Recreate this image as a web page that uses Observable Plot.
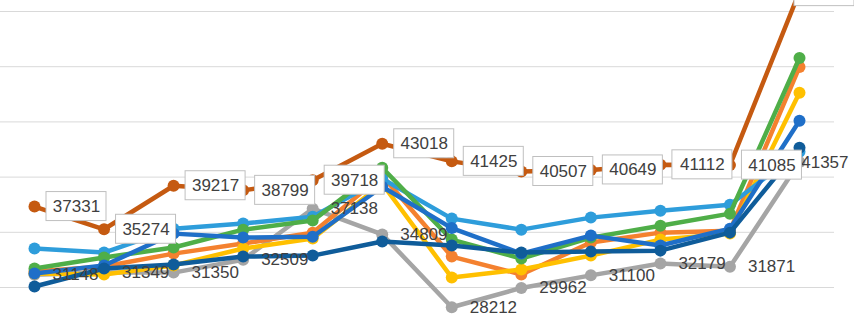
<!DOCTYPE html>
<html><head><meta charset="utf-8">
<script src="https://cdn.jsdelivr.net/npm/d3@7"></script>
<script src="https://cdn.jsdelivr.net/npm/@observablehq/plot@0.6"></script>
<style>html,body{margin:0;padding:0;background:#fff;overflow:hidden}</style>
</head><body><div id="chart"></div>
<script>
const periods = [1,2,3,4,5,6,7,8,9,10,11,12];
const gridValues = [30000,35000,40000,45000,50000,55000];

const brown     = [37331,35274,39217,38799,39718,43018,41425,40507,40649,41112,41085,56800];
const gray      = [31148,31349,31350,32509,37138,34809,28212,29962,31100,32179,31871,41357];
const lightBlue = [33530,33160,35330,35790,36400,39850,36240,35240,36330,36960,37500,42300];
const blue      = [31270,31990,34880,34520,34600,39130,35380,33070,34700,33800,35330,45100];
const darkBlue  = [30090,31720,32080,32800,32890,34160,33800,33160,33250,33340,34970,42660];
const green     = [31720,32710,33620,35240,36060,40850,34340,32620,34520,35600,36690,50790];
const orange    = [31450,31900,33070,33980,34970,40120,32800,31180,34070,34970,35150,49980];
const yellow    = [31270,31180,32000,33530,34430,39400,30900,31630,32890,34340,34880,47630];

const series = [
  {name:"gray", values:gray, color:"#a5a5a5"},
  {name:"orange", values:orange, color:"#f4812f"},
  {name:"yellow", values:yellow, color:"#ffc000"},
  {name:"lightBlue", values:lightBlue, color:"#2e9ddb"},
  {name:"green", values:green, color:"#4fae48"},
  {name:"blue", values:blue, color:"#1f6fc8"},
  {name:"darkBlue", values:darkBlue, color:"#0f5c9a"},
  {name:"brown", values:brown, color:"#c55a11"}
];

const toRows = vals => periods.map((p,i) => ({p, v: vals[i], i}));
const marks = [Plot.ruleY(gridValues, {stroke:"#d9d9d9", strokeWidth:1})];
for (const s of series) {
  const rows = toRows(s.values);
  marks.push(Plot.line(rows, {x:"p", y:"v", stroke:s.color, strokeWidth:4.5}));
  marks.push(Plot.dot(rows, {x:"p", y:"v", fill:s.color, r:6}));
}
const grayRows = toRows(gray);
const brownRows = toRows(brown);
const font = {fontFamily:"Liberation Sans, Arial, sans-serif", fontSize:17, fill:"#404040"};
marks.push(Plot.text(grayRows.slice(0,11), {x:"p", y:"v", text:d=>String(d.v), textAnchor:"start", dx:18, ...font}));
marks.push(Plot.text(grayRows.slice(11), {x:"p", y:"v", text:d=>String(d.v), textAnchor:"end", dx:49, ...font}));
marks.push(Plot.rect(brownRows.slice(0,11), {x1:"p", x2:"p", y1:"v", y2:"v", insetLeft:12, insetRight:-72, insetTop:-14.5, insetBottom:-14.5, fill:"white", stroke:"#bfbfbf", strokeWidth:1}));
marks.push(Plot.rect(brownRows.slice(11), {x1:"p", x2:"p", y1:"v", y2:"v", insetLeft:-5, insetRight:-55, insetTop:-14.5, insetBottom:-14.5, fill:"white", stroke:"#bfbfbf", strokeWidth:1}));
marks.push(Plot.text(brownRows.slice(0,11), {x:"p", y:"v", text:d=>String(d.v), dx:42, textAnchor:"middle", ...font}));

const chart = Plot.plot({
  width:854, height:316,
  marginLeft:0, marginRight:20, marginTop:0, marginBottom:0,
  x:{domain:[1,12], range:[34,799], axis:null},
  y:{domain:[30000,55000], range:[287,11], axis:null},
  style:{background:"white", overflow:"hidden"},
  marks
});
document.getElementById("chart").appendChild(chart);
</script>
</body></html>
